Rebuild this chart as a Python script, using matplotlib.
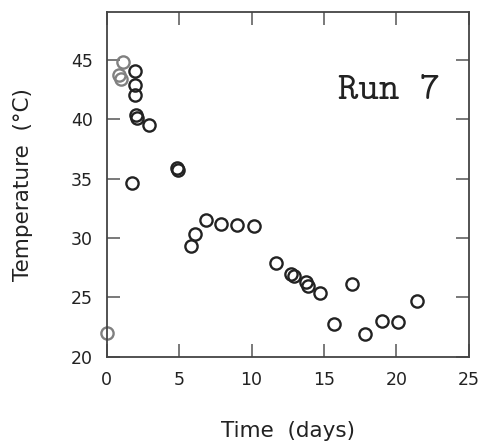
import matplotlib
matplotlib.use('Agg')
import matplotlib.pyplot as plt

# Run 7 temperature log
time_days = [0.0, 0.86, 1.0, 1.16, 1.97, 1.97, 1.97, 2.0, 2.08, 2.95, 1.78,
             4.88, 4.92, 5.8, 6.1, 6.86, 7.9, 9.0, 10.15, 11.69, 12.7, 12.9,
             13.76, 13.87, 14.72, 16.95, 15.7, 17.83, 18.98, 20.08, 21.4]
temp_c = [22.0, 43.7, 43.4, 44.8, 44.0, 42.9, 42.0, 40.3, 40.1, 39.5, 34.6,
          35.9, 35.7, 29.3, 30.3, 31.5, 31.2, 31.1, 31.0, 27.9, 27.0, 26.8,
          26.3, 25.95, 25.4, 26.1, 22.8, 21.9, 23.0, 22.9, 24.7]
# first few readings came out fainter on the original record
faint = [True, True, True, True] + [False] * (len(time_days) - 4)

x_ticks = [0, 5, 10, 15, 20, 25]
y_ticks = [20, 25, 30, 35, 40, 45]

fig = plt.figure(figsize=(4.85, 4.46), dpi=100)
ax = fig.add_axes([0.2196, 0.1996, 0.7474, 0.7735])

ink = '#222222'
for x, y, f in zip(time_days, temp_c, faint):
    ax.plot(x, y, 'o', markersize=8.8, markerfacecolor='none',
            markeredgewidth=1.7, markeredgecolor='#808080' if f else ink,
            clip_on=False)

ax.set_xlim(0, 25)
ax.set_ylim(20, 49)
ax.set_xticks(x_ticks)
ax.set_yticks(y_ticks)
ax.tick_params(direction='in', length=9.5, width=1.1, color='#555555',
               top=True, right=True, labelsize=12.5, pad=10,
               labelcolor=ink)
for s in ax.spines.values():
    s.set_linewidth(1.3)
    s.set_color('#444444')

ax.set_xlabel('Time  (days)', fontsize=15.5, color=ink, labelpad=23)
ax.set_ylabel('Temperature  (°C)', fontsize=15.5, color=ink, labelpad=27)

ax.text(0.638, 0.748, 'Run 7', transform=ax.transAxes,
        family=['cmtt10', 'Liberation Mono'], fontsize=28, color=ink)

fig.savefig('out.png', dpi=100, facecolor='white')
